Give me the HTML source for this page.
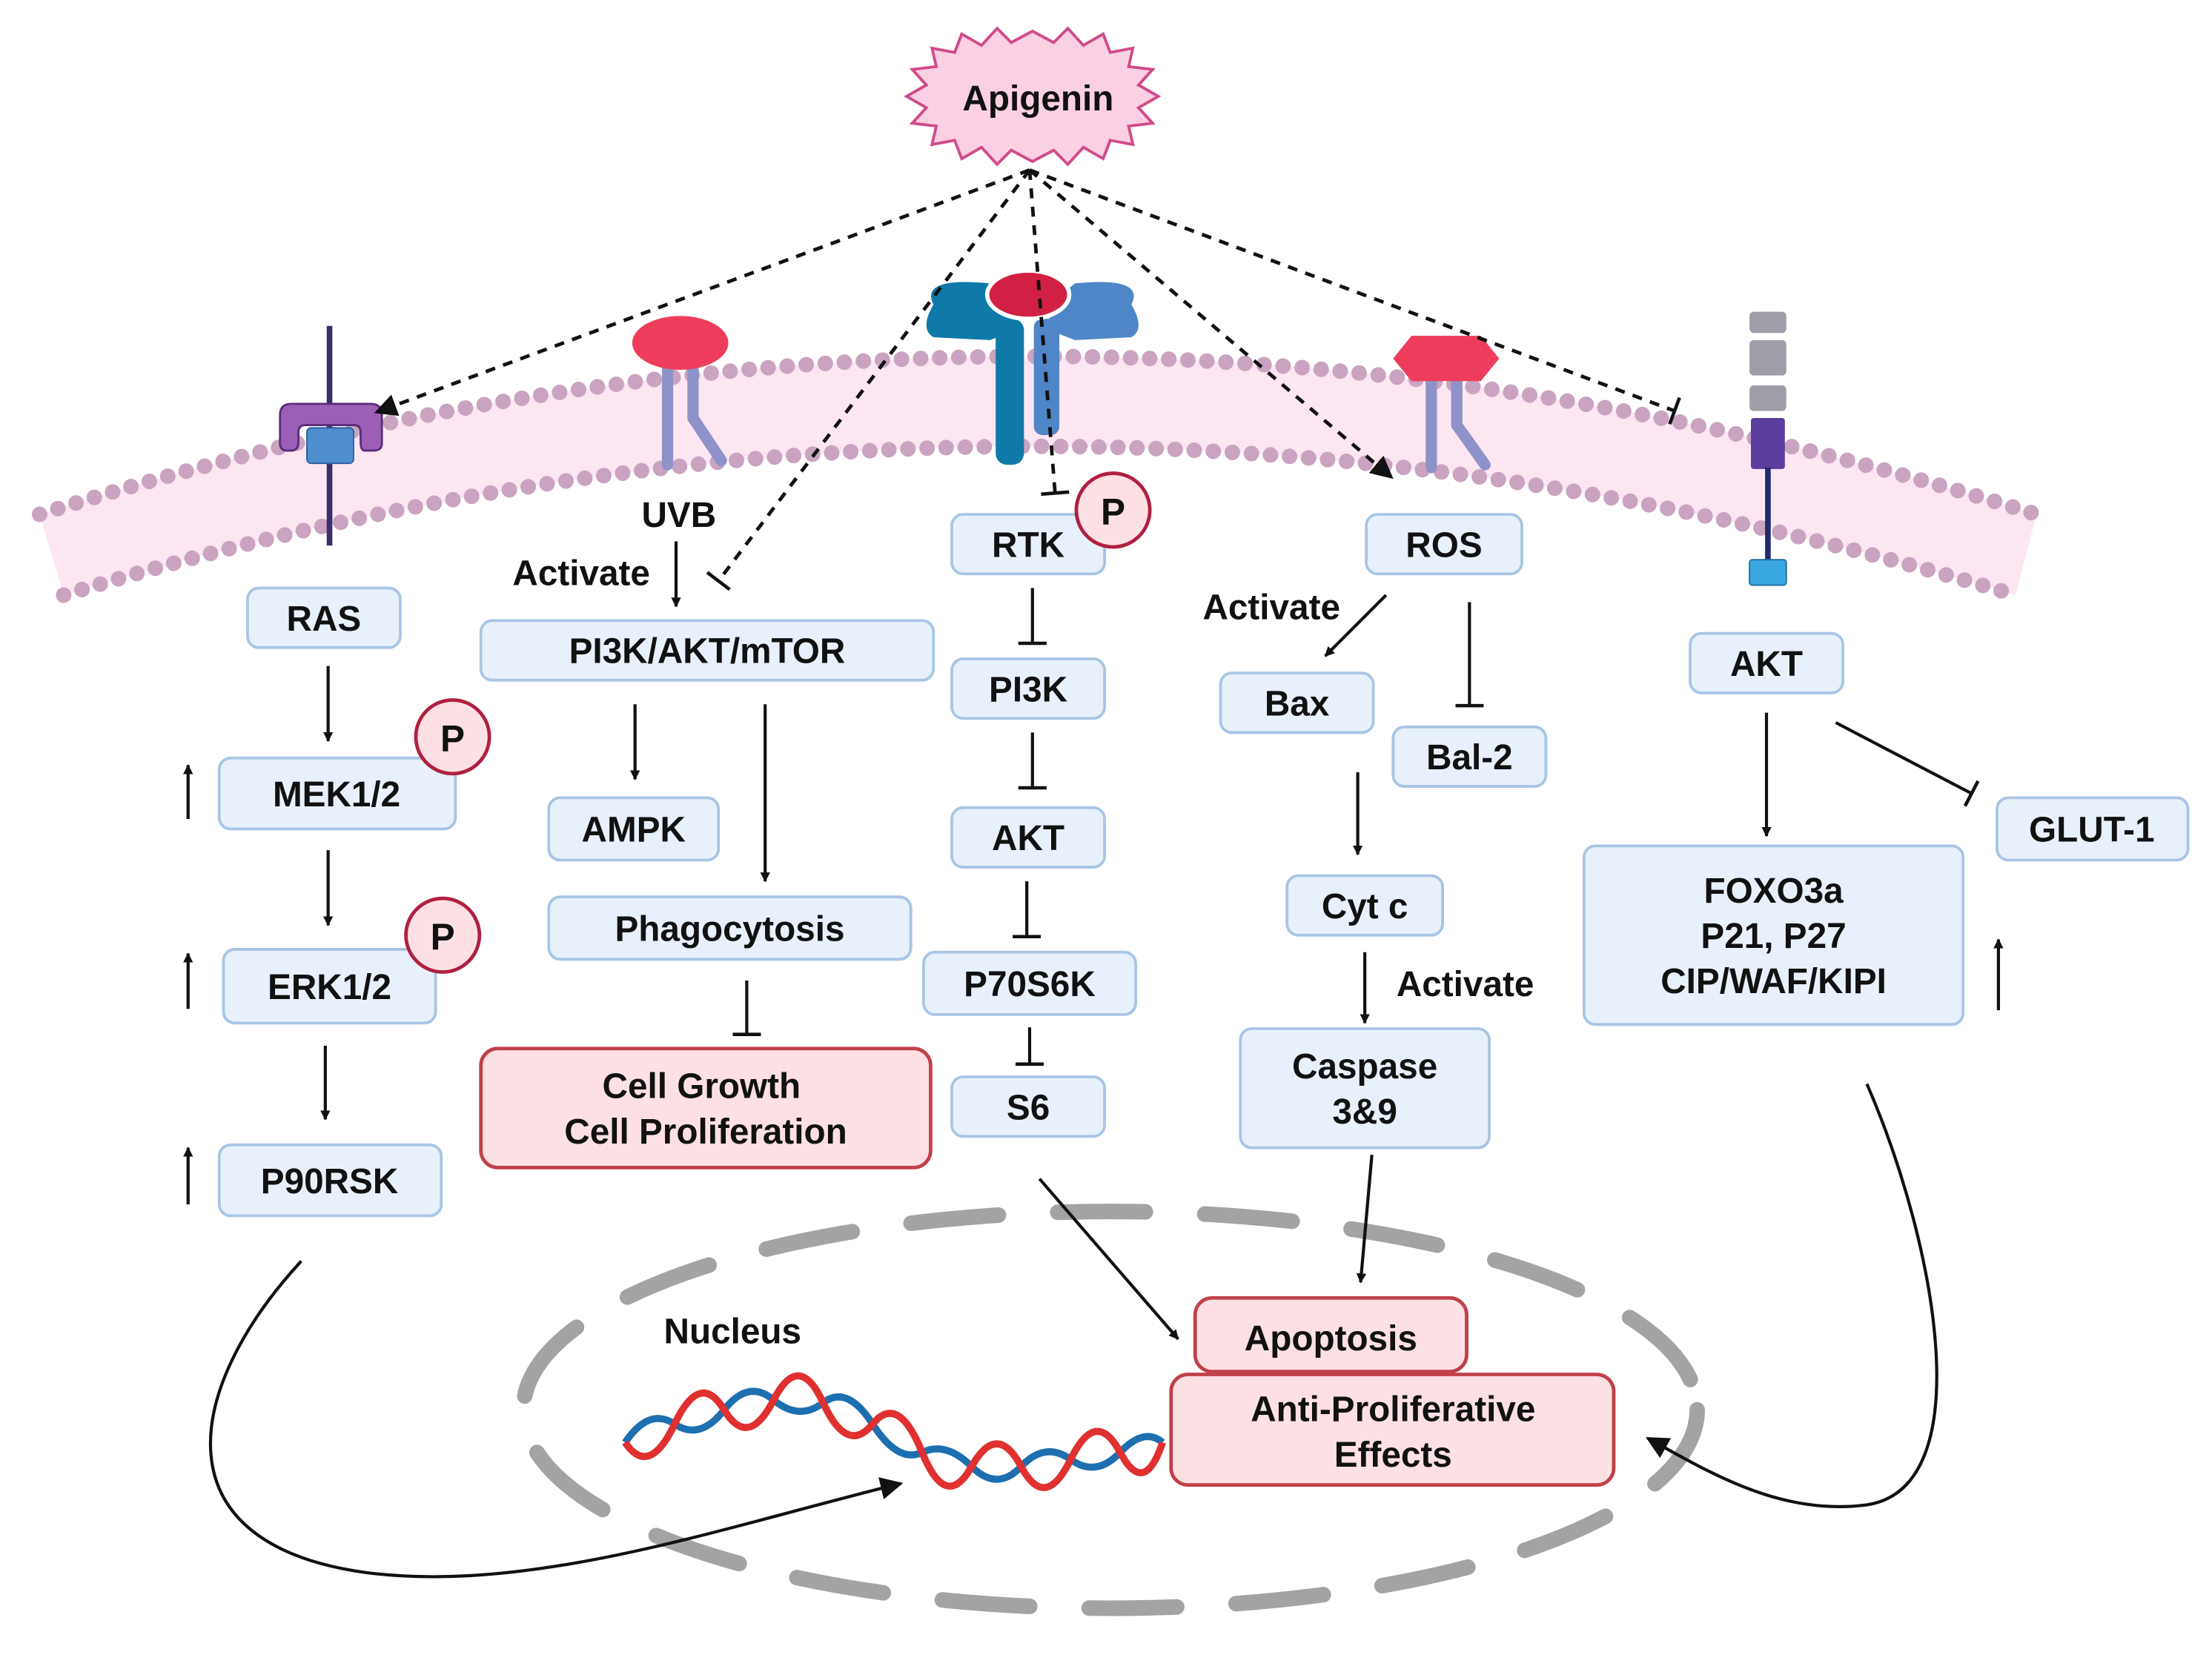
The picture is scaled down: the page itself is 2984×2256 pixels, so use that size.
<!DOCTYPE html>
<html><head><meta charset="utf-8"><style>
html,body{margin:0;padding:0;background:#fff;}
svg{display:block;}
text{font-family:"Liberation Sans",sans-serif;font-weight:bold;fill:#111;}
</style></head><body>
<svg width="2984" height="2256" viewBox="0 0 1564 1180" preserveAspectRatio="none" xmlns="http://www.w3.org/2000/svg">
<defs>
<marker id="ar" viewBox="0 0 10 10" refX="9" refY="5" markerWidth="7" markerHeight="7" orient="auto" markerUnits="userSpaceOnUse"><path d="M0,0 L10,5 L0,10 z" fill="#111"/></marker>
<marker id="arb" viewBox="0 0 10 10" refX="9" refY="5" markerWidth="16" markerHeight="16" orient="auto" markerUnits="userSpaceOnUse"><path d="M0,0 L10,5 L0,10 z" fill="#111"/></marker>
<marker id="tb" viewBox="0 0 10 10" refX="5" refY="5" markerWidth="20" markerHeight="20" orient="auto" markerUnits="userSpaceOnUse"><path d="M5,0 L5,10" stroke="#111" stroke-width="1.2"/></marker>
</defs>
<!-- membrane -->
<path d="M28,363 Q730,140 1440,363 L1425,420 Q730,210 45,420 Z" fill="#fbe6f2"/>
<path d="M28,363 Q730,140 1440,363" fill="none" stroke="#c9a3bf" stroke-width="11" stroke-linecap="round" stroke-dasharray="0 13.5"/>
<path d="M45,420 Q730,210 1425,420" fill="none" stroke="#c9a3bf" stroke-width="11" stroke-linecap="round" stroke-dasharray="0 13.5"/>

<!-- left receptor -->
<line x1="233" y1="230" x2="233" y2="385" stroke="#3b2d6e" stroke-width="4"/>
<path d="M198,293 Q198,285 206,285 L262,285 Q270,285 270,293 L270,313 Q270,318 264,318 L258,318 Q255,318 255,312 L255,305 Q255,300 250,300 L216,300 Q211,300 211,305 L211,312 Q211,318 206,318 L203,318 Q198,318 198,313 Z" fill="#9b5fb5" stroke="#5b2d7a" stroke-width="1.5"/>
<rect x="217" y="302" width="33" height="25" rx="3" fill="#4f8fd0" stroke="#2b5f9e" stroke-width="1"/>

<!-- red ellipse receptor -->
<path d="M472,255 L472,328" stroke="#8f92c8" stroke-width="8" stroke-linecap="round"/>
<path d="M490,255 L490,295 L510,325" stroke="#8f92c8" stroke-width="8" fill="none" stroke-linecap="round" stroke-linejoin="round"/>
<ellipse cx="481" cy="242" rx="34" ry="19" fill="#ee3d5c"/>

<!-- RTK receptor -->
<path d="M660,215 Q650,195 700,200 L718,215 L718,233 L700,240 L660,238 Q650,232 660,215Z" fill="#0f7aa8"/>
<rect x="704" y="225" width="20" height="103" rx="8" fill="#0f7aa8"/>
<path d="M800,215 Q810,195 760,200 L742,215 L742,233 L760,240 L800,238 Q810,232 800,215Z" fill="#4f86c8"/>
<rect x="731" y="225" width="18" height="82" rx="6" fill="#4f86c8"/>
<ellipse cx="727" cy="208" rx="29" ry="17" fill="#d22045" stroke="#fff" stroke-width="3"/>

<!-- hexagon receptor -->
<path d="M1012,265 L1012,330" stroke="#8f92c8" stroke-width="8" stroke-linecap="round"/>
<path d="M1030,265 L1030,300 L1050,328" stroke="#8f92c8" stroke-width="8" fill="none" stroke-linecap="round" stroke-linejoin="round"/>
<polygon points="985,253 998,237 1047,237 1060,253 1047,269 998,269" fill="#ee3d5c"/>

<!-- right receptor -->
<rect x="1237" y="220" width="26" height="15" rx="3" fill="#9e9ea8"/>
<rect x="1237" y="240" width="26" height="25" rx="3" fill="#9e9ea8"/>
<rect x="1237" y="272" width="26" height="18" rx="3" fill="#9e9ea8"/>
<rect x="1238" y="295" width="24" height="36" rx="2" fill="#5a3d9c"/>
<line x1="1250" y1="330" x2="1250" y2="395" stroke="#1f2a6e" stroke-width="4"/>
<rect x="1237" y="395" width="26" height="18" rx="2" fill="#3aa8e0" stroke="#1f6ea0"/>

<!-- Apigenin star -->
<polygon fill="#fbd0e3" stroke="#d04a8a" stroke-width="2" points="
819,68 805,76 815,87 798,89 801,102 785,99 780,112 766,104 755,116 745,106 730,114 715,106 705,116 694,104 680,112 675,99 659,102 662,89 645,87 655,76 641,68 655,60 645,49 662,47 659,34 675,37 680,24 694,32 705,20 715,30 730,22 745,30 755,20 766,32 780,24 785,37 801,34 798,47 815,49 805,60"/>
<text x="734" y="78" font-size="25" text-anchor="middle">Apigenin</text>

<!-- dashed lines -->
<g stroke="#111" stroke-width="2.5" stroke-dasharray="7,6" fill="none">
<line x1="728" y1="120" x2="266" y2="291" marker-end="url(#arb)"/>
<line x1="728" y1="120" x2="508" y2="410" marker-end="url(#tb)"/>
<line x1="728" y1="120" x2="746" y2="348" marker-end="url(#tb)"/>
<line x1="728" y1="120" x2="984" y2="337" marker-end="url(#arb)"/>
<line x1="728" y1="120" x2="1184" y2="290" marker-end="url(#tb)"/>
</g>

<!-- nucleus -->
<ellipse cx="785" cy="995" rx="415" ry="140" fill="none" stroke="#a3a3a3" stroke-width="11" stroke-dasharray="62,42" stroke-linecap="round"/>
<text x="518" y="948" font-size="25" text-anchor="middle">Nucleus</text>
<path d="M442,1018 Q459,993 477,1005 T512,995 T547,988 T582,990 T617,1005 T652,1025 T687,1035 T722,1035 T757,1030 T792,1025 T822,1018" fill="none" stroke="#1e6fb0" stroke-width="5"/>
<path d="M442,1018 Q459,1043 477,1005 T512,995 T547,988 T582,990 T617,1005 T652,1025 T687,1035 T722,1035 T757,1030 T792,1025 T822,1018" fill="none" stroke="#e03030" stroke-width="5"/>

<!-- boxes -->
<g fill="#e8f1fb" stroke="#a9c5e5" stroke-width="2">
<rect x="175" y="415" width="108" height="42" rx="8"/>
<rect x="155" y="535" width="167" height="50" rx="8"/>
<rect x="158" y="670" width="150" height="52" rx="8"/>
<rect x="155" y="808" width="157" height="50" rx="8"/>
<rect x="340" y="438" width="320" height="42" rx="8"/>
<rect x="388" y="563" width="120" height="44" rx="8"/>
<rect x="388" y="633" width="256" height="44" rx="8"/>
<rect x="673" y="363" width="108" height="42" rx="8"/>
<rect x="673" y="465" width="108" height="42" rx="8"/>
<rect x="673" y="570" width="108" height="42" rx="8"/>
<rect x="653" y="672" width="150" height="44" rx="8"/>
<rect x="673" y="760" width="108" height="42" rx="8"/>
<rect x="966" y="363" width="110" height="42" rx="8"/>
<rect x="863" y="475" width="108" height="42" rx="8"/>
<rect x="985" y="513" width="108" height="42" rx="8"/>
<rect x="910" y="618" width="110" height="42" rx="8"/>
<rect x="877" y="726" width="176" height="84" rx="8"/>
<rect x="1195" y="447" width="108" height="42" rx="8"/>
<rect x="1412" y="563" width="135" height="44" rx="8"/>
<rect x="1120" y="597" width="268" height="126" rx="8"/>
</g>
<g fill="#fde0e4" stroke="#c0404a" stroke-width="2.5">
<rect x="340" y="740" width="318" height="84" rx="12"/>
<rect x="845" y="916" width="192" height="52" rx="12"/>
<rect x="828" y="970" width="313" height="78" rx="12"/>
</g>
<g font-size="25" text-anchor="middle">
<text x="229" y="445">RAS</text>
<text x="238" y="569">MEK1/2</text>
<text x="233" y="705">ERK1/2</text>
<text x="233" y="842">P90RSK</text>
<text x="500" y="468">PI3K/AKT/mTOR</text>
<text x="448" y="594">AMPK</text>
<text x="516" y="664">Phagocytosis</text>
<text x="496" y="775">Cell Growth</text>
<text x="499" y="807">Cell Proliferation</text>
<text x="727" y="393">RTK</text>
<text x="727" y="495">PI3K</text>
<text x="727" y="600">AKT</text>
<text x="728" y="703">P70S6K</text>
<text x="727" y="790">S6</text>
<text x="1021" y="393">ROS</text>
<text x="917" y="505">Bax</text>
<text x="1039" y="543">Bal-2</text>
<text x="965" y="648">Cyt c</text>
<text x="965" y="761">Caspase</text>
<text x="965" y="793">3&amp;9</text>
<text x="1249" y="477">AKT</text>
<text x="1479" y="594">GLUT-1</text>
<text x="1254" y="637">FOXO3a</text>
<text x="1254" y="669">P21, P27</text>
<text x="1254" y="701">CIP/WAF/KIPI</text>
<text x="941" y="953">Apoptosis</text>
<text x="985" y="1003">Anti-Proliferative</text>
<text x="985" y="1035">Effects</text>
<text x="480" y="372">UVB</text>
<text x="411" y="413">Activate</text>
<text x="899" y="437">Activate</text>
<text x="1036" y="703">Activate</text>
</g>

<!-- P circles -->
<g fill="#fde0e4" stroke="#b02040" stroke-width="2.5">
<circle cx="320" cy="520" r="26"/>
<circle cx="313" cy="660" r="26"/>
<circle cx="787" cy="360" r="26"/>
</g>
<g font-size="26" text-anchor="middle">
<text x="320" y="530">P</text>
<text x="313" y="670">P</text>
<text x="787" y="370">P</text>
</g>

<!-- solid arrows -->
<g stroke="#111" stroke-width="2.2" fill="none">
<line x1="232" y1="470" x2="232" y2="523" marker-end="url(#ar)"/>
<line x1="232" y1="600" x2="232" y2="653" marker-end="url(#ar)"/>
<line x1="230" y1="738" x2="230" y2="790" marker-end="url(#ar)"/>
<line x1="133" y1="578" x2="133" y2="540" marker-end="url(#ar)"/>
<line x1="133" y1="712" x2="133" y2="673" marker-end="url(#ar)"/>
<line x1="133" y1="850" x2="133" y2="810" marker-end="url(#ar)"/>
<line x1="478" y1="382" x2="478" y2="428" marker-end="url(#ar)"/>
<line x1="449" y1="497" x2="449" y2="550" marker-end="url(#ar)"/>
<line x1="541" y1="497" x2="541" y2="622" marker-end="url(#ar)"/>
<line x1="528" y1="692" x2="528" y2="730" marker-end="url(#tb)"/>
<line x1="730" y1="415" x2="730" y2="454" marker-end="url(#tb)"/>
<line x1="730" y1="517" x2="730" y2="556" marker-end="url(#tb)"/>
<line x1="726" y1="622" x2="726" y2="661" marker-end="url(#tb)"/>
<line x1="728" y1="725" x2="728" y2="751" marker-end="url(#tb)"/>
<line x1="980" y1="420" x2="937" y2="463" marker-end="url(#ar)"/>
<line x1="1039" y1="425" x2="1039" y2="498" marker-end="url(#tb)"/>
<line x1="960" y1="545" x2="960" y2="603" marker-end="url(#ar)"/>
<line x1="965" y1="672" x2="965" y2="722" marker-end="url(#ar)"/>
<line x1="970" y1="815" x2="962" y2="905" marker-end="url(#ar)"/>
<line x1="735" y1="832" x2="833" y2="945" marker-end="url(#ar)"/>
<line x1="1249" y1="503" x2="1249" y2="590" marker-end="url(#ar)"/>
<line x1="1298" y1="510" x2="1394" y2="560" marker-end="url(#tb)"/>
<line x1="1413" y1="713" x2="1413" y2="663" marker-end="url(#ar)"/>
<path d="M213,890 C130,980 110,1090 260,1110 C380,1125 520,1075 637,1047" marker-end="url(#arb)"/>
<path d="M1320,765 C1370,880 1400,1050 1320,1062 C1260,1070 1210,1040 1165,1015" marker-end="url(#arb)"/>
</g>
</svg>
</body></html>
